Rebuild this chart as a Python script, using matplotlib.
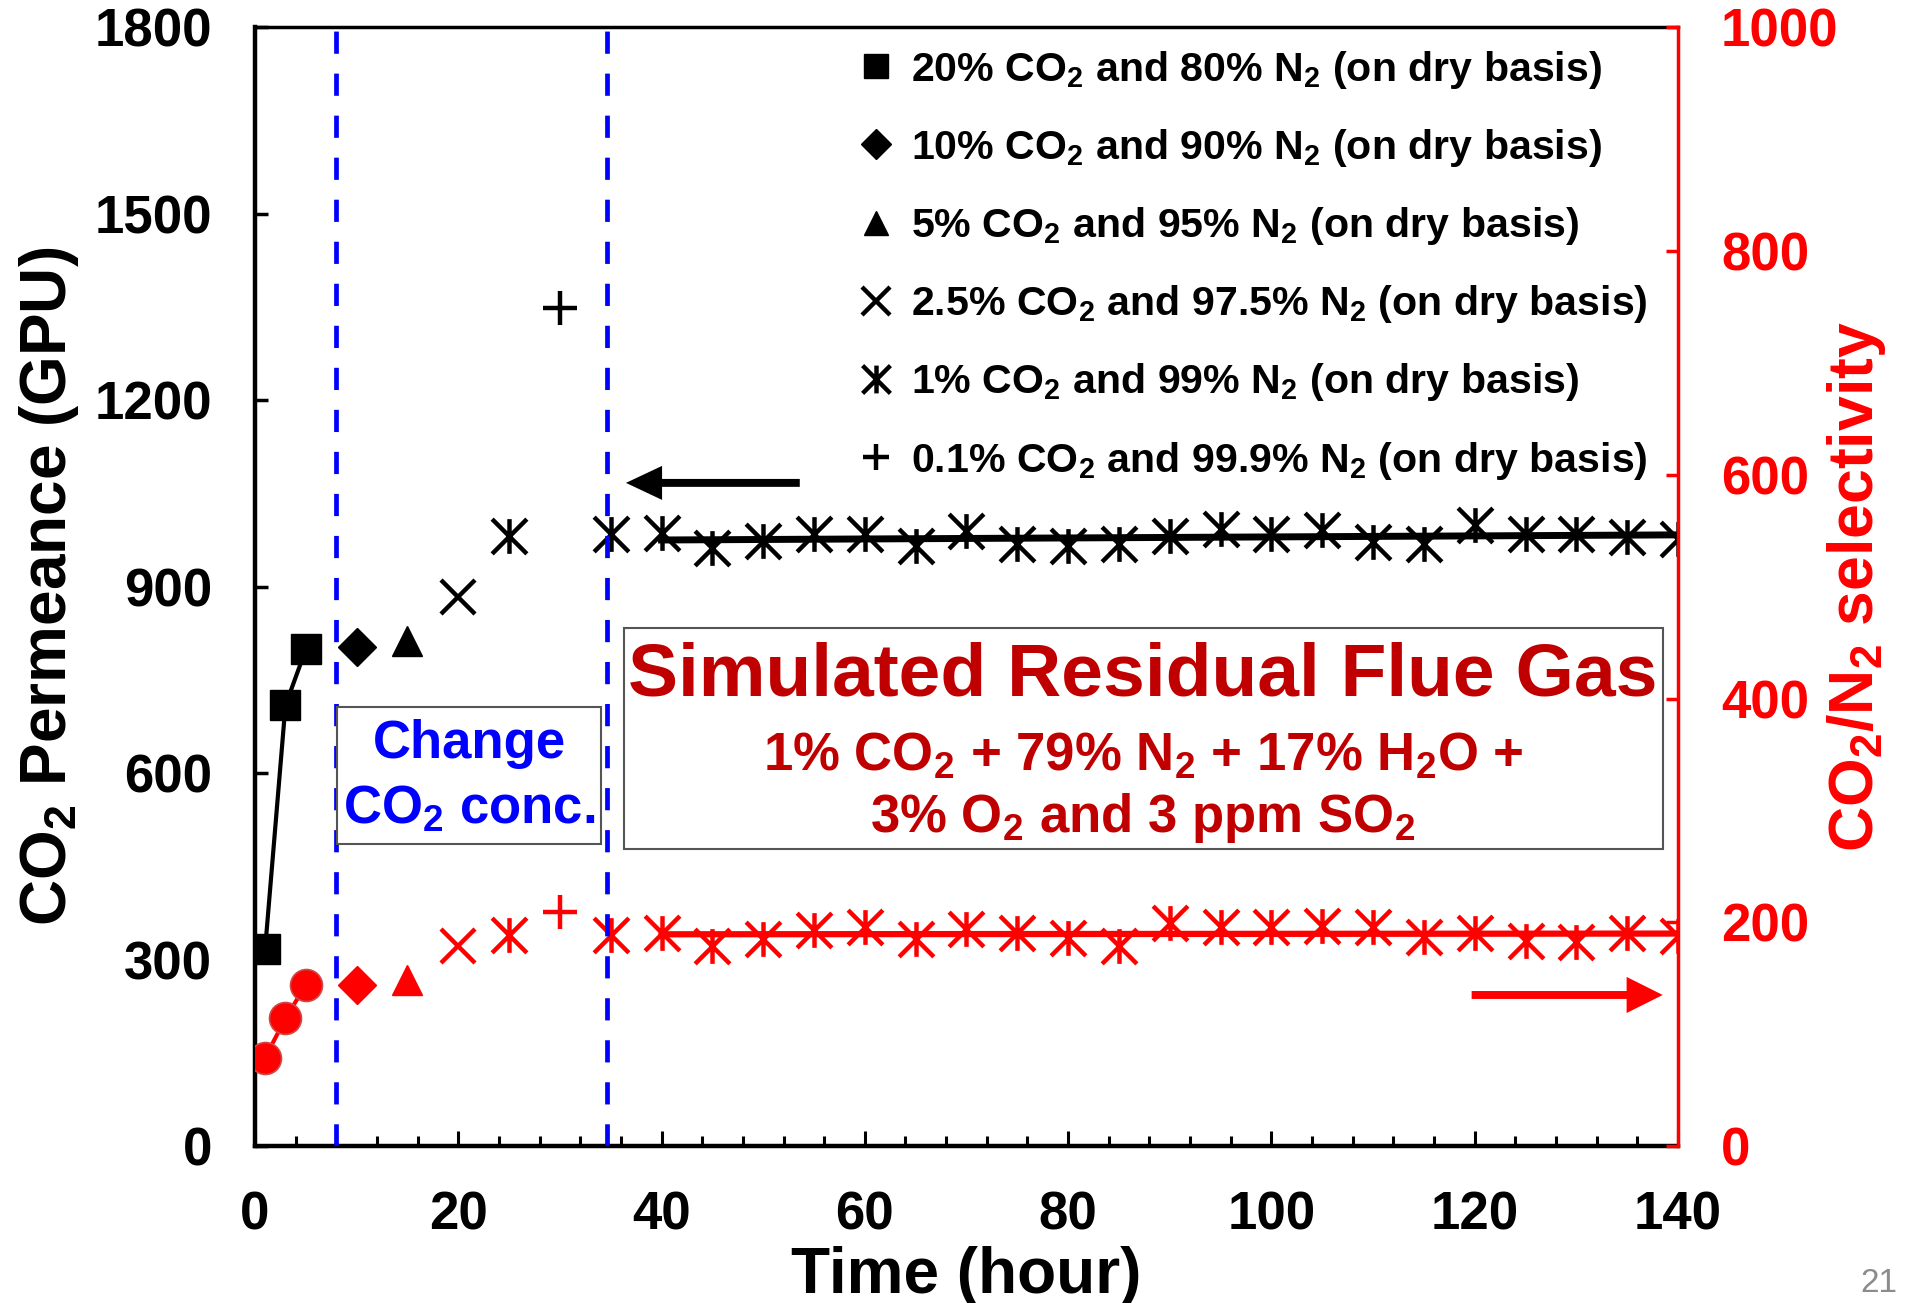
import numpy as np
import matplotlib
matplotlib.use('Agg')
import matplotlib.pyplot as plt
from matplotlib.path import Path
from matplotlib.patches import Rectangle
from matplotlib.ticker import MultipleLocator

# Arial-like bold text everywhere, subscripts through mathtext in the same font.
plt.rcParams['font.family'] = ['Liberation Sans', 'DejaVu Sans']
plt.rcParams['font.weight'] = 'bold'
plt.rcParams['axes.labelweight'] = 'bold'
plt.rcParams['mathtext.fontset'] = 'custom'
plt.rcParams['mathtext.rm'] = 'Liberation Sans:bold'
plt.rcParams['mathtext.bf'] = 'Liberation Sans:bold'
plt.rcParams['mathtext.it'] = 'Liberation Sans:bold'

######## DATA ########
# 20% CO2 / 80% N2
t_20 = [1, 3, 5]
perm_20 = [317, 709, 799]
sel_20 = [79, 114, 144]
# 10% CO2
t_10 = [10]
perm_10 = [803]
sel_10 = [144]
# 5% CO2
t_5 = [15]
perm_5 = [813]
sel_5 = [148]
# 2.5% CO2
t_2p5 = [20]
perm_2p5 = [883]
sel_2p5 = [179]
# 1% CO2 (25 h dry feed, then simulated residual flue gas from 35 h)
t_1 = [25, 35, 40, 45, 50, 55, 60, 65, 70, 75, 80, 85, 90, 95, 100,
       105, 110, 115, 120, 125, 130, 135, 140]
perm_1 = [981, 985, 987, 963, 973, 984, 984, 965, 989, 969, 965, 969, 981,
          993, 984, 992, 972, 969, 1000, 985, 984, 980, 976]
sel_1 = [189, 189, 190, 179, 185, 193, 196, 185, 194, 190, 186, 179, 199,
         196, 196, 197, 196, 187, 190, 183, 182, 190, 188]
# 0.1% CO2
t_01 = [30]
perm_01 = [1349]
sel_01 = [209]

legend_labels = [
    '20% CO$_2$ and 80% N$_2$ (on dry basis)',
    '10% CO$_2$ and 90% N$_2$ (on dry basis)',
    '5% CO$_2$ and 95% N$_2$ (on dry basis)',
    '2.5% CO$_2$ and 97.5% N$_2$ (on dry basis)',
    '1% CO$_2$ and 99% N$_2$ (on dry basis)',
    '0.1% CO$_2$ and 99.9% N$_2$ (on dry basis)',
]
change_times = [8, 34.6]
trend_start = 40
############################################

RED = '#FF0000'
DARKRED = '#C00000'
BLUE = '#0000FF'

# Excel-style "star" marker: an X with a vertical bar.
star = Path([(-1, -1), (1, 1), (-1, 1), (1, -1), (0, -1), (0, 1)],
            [Path.MOVETO, Path.LINETO] * 3)

fig = plt.figure(figsize=(19.07, 13.03), dpi=100)
ax = fig.add_axes([0.1337, 0.1205, 0.7462, 0.8585])
ax2 = ax.twinx()

# ---- permeance (left axis, black) ----
ax.plot(t_20, perm_20, '-', color='k', lw=3, zorder=2)
ax.plot(t_20, perm_20, 's', color='k', ms=21, ls='none', label=legend_labels[0], zorder=3)
ax.plot(t_10, perm_10, 'D', color='k', ms=19, ls='none', label=legend_labels[1], zorder=3)
ax.plot(t_5, perm_5, '^', color='k', ms=22, ls='none', label=legend_labels[2], zorder=3)
ax.plot(t_2p5, perm_2p5, 'x', color='k', ms=25, mew=3.2, ls='none', label=legend_labels[3], zorder=3)
ax.plot(t_1, perm_1, marker=star, color='k', mfc='none', ms=25, mew=3.2, ls='none',
        label=legend_labels[4], zorder=3)
ax.plot(t_01, perm_01, '+', color='k', ms=24, mew=3.2, ls='none', label=legend_labels[5], zorder=3)

t1 = np.array(t_1)
m = t1 >= trend_start
pfit = np.polyfit(t1[m], np.array(perm_1)[m], 1)
xt = np.array([trend_start, t1.max()])
ax.plot(xt, np.polyval(pfit, xt), '-', color='k', lw=5, zorder=2)

# ---- selectivity (right axis, red) ----
ax2.plot(t_20, sel_20, '-', color=RED, lw=3, zorder=2)
ax2.plot(t_20, sel_20, 'o', color=RED, mec='#D04848', mew=1.2, ms=23, ls='none', zorder=3)
ax2.plot(t_10, sel_10, 'D', color=RED, ms=19, ls='none', zorder=3)
ax2.plot(t_5, sel_5, '^', color=RED, ms=22, ls='none', zorder=3)
ax2.plot(t_2p5, sel_2p5, 'x', color=RED, ms=25, mew=3.2, ls='none', zorder=3)
ax2.plot(t_1, sel_1, marker=star, color=RED, mfc='none', ms=25, mew=3.2, ls='none', zorder=3)
ax2.plot(t_01, sel_01, '+', color=RED, ms=24, mew=3.2, ls='none', zorder=3)
sfit = np.polyfit(t1[m], np.array(sel_1)[m], 1)
ax2.plot(xt, np.polyval(sfit, xt), '-', color=RED, lw=4.5, zorder=2)

# change-of-feed markers
for xc in change_times:
    ax2.axvline(xc, color=BLUE, lw=3.4, ls=(0, (4.7, 4.2)), zorder=4)

# ---- axes styling ----
ax.set_xlim(0, 140)
ax.set_ylim(0, 1800)
ax2.set_ylim(0, 1000)
ax.set_xticks(np.arange(0, 141, 20))
ax.xaxis.set_minor_locator(MultipleLocator(4))
ax.set_yticks(np.arange(0, 1801, 300))
ax2.set_yticks(np.arange(0, 1001, 200))

ax.tick_params(axis='x', which='major', direction='in', length=11, width=2.2,
               pad=32, labelsize=38)
ax.tick_params(axis='x', which='minor', direction='in', length=7, width=2.2)
ax.tick_params(axis='y', direction='in', length=9, width=2.5, pad=31, labelsize=38)
ax2.tick_params(axis='y', direction='in', length=9, width=2.5, pad=31, labelsize=38,
                colors=RED)

for s in ['left', 'bottom']:
    ax.spines[s].set_linewidth(3.2)
ax.spines['top'].set_linewidth(2.5)
ax.spines['right'].set_visible(False)
for s in ['left', 'top', 'bottom']:
    ax2.spines[s].set_visible(False)
ax2.spines['right'].set_color(RED)
ax2.spines['right'].set_linewidth(2.5)

ax.set_xlabel('Time (hour)', fontsize=46, fontweight='bold')
ax.xaxis.set_label_coords(0.5, -0.089)
ax.set_ylabel('CO$_2$ Permeance (GPU)', fontsize=46, fontweight='bold')
ax.yaxis.set_label_coords(-0.122, 0.5)
ax2.set_ylabel('CO$_2$/N$_2$ selectivity', fontsize=45, fontweight='bold', color=RED)
ax2.yaxis.set_label_coords(1.103, 0.5)

ax.legend(loc='upper left', bbox_to_anchor=(0.422, 0.981), frameon=False,
          prop={'size': 29.6, 'weight': 'bold'}, borderpad=0, borderaxespad=0,
          handlelength=1.0, handletextpad=0.36, labelspacing=0.88, markerscale=0.8)

# ---- annotation boxes ----
ax2.add_patch(Rectangle((0.0576, 0.270), 0.1855, 0.122, transform=ax2.transAxes,
                        fc='white', ec='#555555', lw=1.5, zorder=5))
ax2.text(0.1504, 0.359, 'Change', transform=ax2.transAxes, ha='center', va='center',
         fontsize=38, color=BLUE, zorder=6)
ax2.text(0.1504, 0.301, 'CO$_2$ conc.', transform=ax2.transAxes, ha='center', va='center',
         fontsize=38, color=BLUE, zorder=6)

ax2.add_patch(Rectangle((0.2593, 0.2657), 0.7302, 0.1976, transform=ax2.transAxes,
                        fc='white', ec='#555555', lw=1.5, zorder=5))
ax2.text(0.624, 0.42, 'Simulated Residual Flue Gas', transform=ax2.transAxes,
         ha='center', va='center', fontsize=54, color=DARKRED, zorder=6)
ax2.text(0.624, 0.348, '1% CO$_2$ + 79% N$_2$ + 17% H$_2$O +', transform=ax2.transAxes,
         ha='center', va='center', fontsize=38, color=DARKRED, zorder=6)
ax2.text(0.624, 0.293, '3% O$_2$ and 3 ppm SO$_2$', transform=ax2.transAxes,
         ha='center', va='center', fontsize=38, color=DARKRED, zorder=6)

# ---- direction arrows ----
ax.annotate('', xy=(36.5, 1067), xytext=(53.6, 1067),
            arrowprops=dict(arrowstyle='simple,head_length=2.6,head_width=2.45,tail_width=0.57',
                            fc='k', ec='none', shrinkA=0, shrinkB=0, mutation_scale=10))
ax2.annotate('', xy=(138.5, 135), xytext=(119.7, 135),
             arrowprops=dict(arrowstyle='simple,head_length=2.6,head_width=2.6,tail_width=0.57',
                             fc=RED, ec='none', shrinkA=0, shrinkB=0, mutation_scale=10))

# slide number
fig.text(0.995, 0.003, '21', ha='right', va='bottom', fontsize=24, color='#8c8c8c',
         weight='normal')

fig.savefig('out.png', dpi=100)
